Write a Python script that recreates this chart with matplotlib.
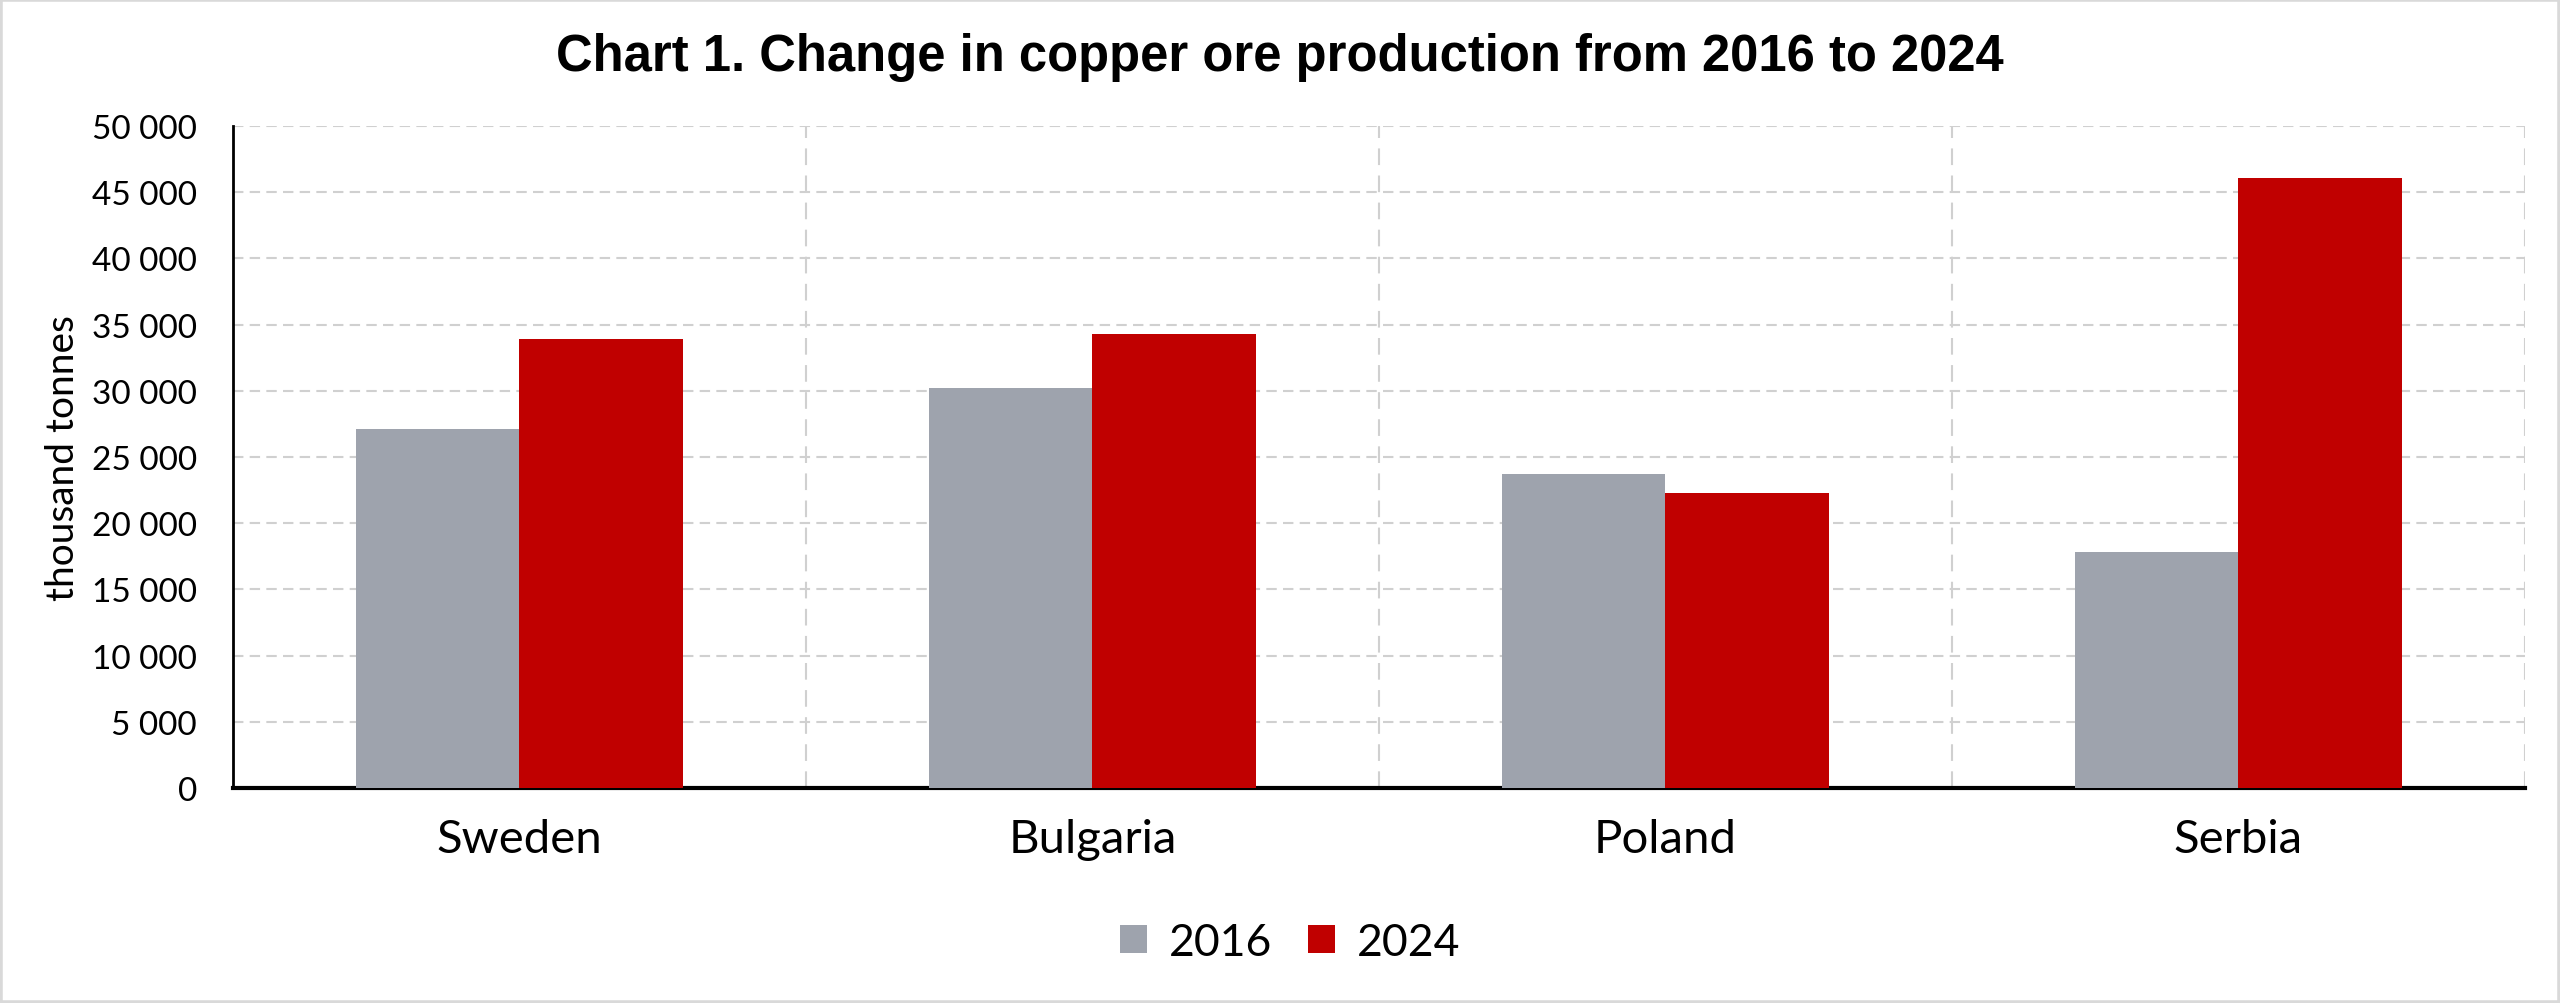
import matplotlib.pyplot as plt
from matplotlib.patches import Rectangle
from matplotlib.ticker import FuncFormatter

countries = ["Sweden", "Bulgaria", "Poland", "Serbia"]
years = ["2016", "2024"]
val_2016 = [27150, 30180, 23720, 17800]
val_2024 = [33900, 34270, 22310, 46050]
colors = ["#9EA3AD", "#C00000"]

fig = plt.figure(figsize=(25.6, 10.04), dpi=100)
ax = fig.add_axes([0.0910, 0.2142, 0.8953, 0.6593])

x = list(range(len(countries)))
w = 0.285
ax.bar([i - w / 2 for i in x], val_2016, width=w, color=colors[0], label=years[0], zorder=3)
ax.bar([i + w / 2 for i in x], val_2024, width=w, color=colors[1], label=years[1], zorder=3)

ax.set_xlim(-0.5, len(countries) - 0.5)
ax.set_ylim(0, 50000)
ax.set_yticks(range(0, 50001, 5000))
ax.yaxis.set_major_formatter(FuncFormatter(lambda v, p: f"{int(v):,}".replace(",", " ")))
ax.set_xticks(x)
ax.set_xticklabels(countries)

# сетка
ax.grid(axis="y", color="#D0D0D0", linestyle=(0, (5, 3)), linewidth=1.5, zorder=0)
for b in [i + 0.5 for i in x]:
    ax.axvline(b, color="#D0D0D0", linestyle=(0, (8, 5)), linewidth=1.5, zorder=0)

for s in ["top", "right"]:
    ax.spines[s].set_visible(False)
ax.spines["left"].set_linewidth(2)
ax.spines["bottom"].set_linewidth(3)

ax.tick_params(axis="y", length=0, pad=26, labelsize=24)
ax.tick_params(axis="x", length=0, pad=22, labelsize=34)
for t in ax.get_yticklabels() + ax.get_xticklabels():
    t.set_fontfamily("Lato")
ax.set_ylabel("thousand tonnes", fontsize=28, family="Lato", labelpad=8)

fig.text(0.5, 1 - 58 / 1004, "Chart 1. Change in copper ore production from 2016 to 2024",
         ha="center", va="center", fontsize=36.5, fontweight="bold", family="Liberation Sans")

fig.legend(loc="center", bbox_to_anchor=(0.504, 1 - 943 / 1004), ncol=2, frameon=False,
           prop={"family": "Lato", "size": 32}, handlelength=0.6, handleheight=0.6,
           handletextpad=0.5, columnspacing=0.8)

fig.patches.append(Rectangle((0, 0), 1, 1, transform=fig.transFigure, fill=False,
                             edgecolor="#D9D9D9", linewidth=4))

fig.savefig("out.png", dpi=100)
